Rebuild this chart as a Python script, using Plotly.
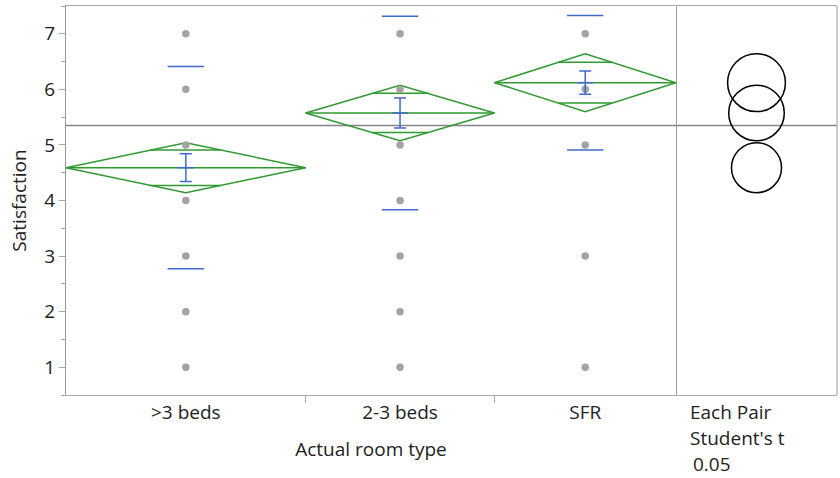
import plotly.graph_objects as go
import numpy as np

# ---------------- data ----------------
categories = [">3 beds", "2-3 beds", "SFR"]
group_n = [33, 26, 25]                       # relative group sizes (diamond widths)
group_means = [4.59, 5.575, 6.12]
ci_half = [0.45, 0.50, 0.52]                 # 95% CI half-width (diamond height)
std_err = [0.25, 0.27, 0.21]                 # blue error bars
std_dev = [1.82, 1.74, 1.21]                 # blue std-dev marks
grand_mean = 5.35
points = [
    [7, 6, 5, 4, 3, 2, 1],
    [7, 6, 5, 4, 3, 2, 1],
    [7, 6, 5, 3, 1],
]
y_ticks = [1, 2, 3, 4, 5, 6, 7]
compare_text = ["Each Pair", "Student's t", "0.05"]

# ---------------- style ----------------
W, H = 840, 478
ML, MR, MT, MB = 66, 3, 6, 83
GREEN = "#2f9a2f"
BLUE = "#4169cf"
DOT = "#a3a3a3"
FRAME = "#a8a8a8"
FONT = "Open Sans"
FS = 19
main_frac = 610 / 771

edges = np.concatenate([[0], np.cumsum(group_n)])
centers = (edges[:-1] + edges[1:]) / 2
total = edges[-1]

fig = go.Figure()

for i in range(len(categories)):
    x0, x1, xc = edges[i], edges[i + 1], centers[i]
    m, c = group_means[i], ci_half[i]
    # diamond outline
    fig.add_trace(go.Scatter(
        x=[x0, xc, x1, xc, x0], y=[m, m + c, m, m - c, m],
        mode="lines", line=dict(color=GREEN, width=1.5), hoverinfo="skip", showlegend=False))
    # mean line
    fig.add_trace(go.Scatter(
        x=[x0, x1], y=[m, m], mode="lines",
        line=dict(color=GREEN, width=1.5), hoverinfo="skip", showlegend=False))
    # overlap marks
    d = c / np.sqrt(2)
    frac = 1 - d / c
    hw = (x1 - x0) / 2 * frac
    for yy in (m + d, m - d):
        fig.add_trace(go.Scatter(
            x=[xc - hw, xc + hw], y=[yy, yy], mode="lines",
            line=dict(color=GREEN, width=1.5), hoverinfo="skip", showlegend=False))

# data points
for i in range(len(categories)):
    fig.add_trace(go.Scatter(
        x=[centers[i]] * len(points[i]), y=points[i], mode="markers",
        marker=dict(color=DOT, size=7.5), showlegend=False))

# std error bars with mean tick
fig.add_trace(go.Scatter(
    x=centers, y=group_means, mode="markers",
    marker=dict(symbol="line-ew", size=12, line=dict(color=BLUE, width=1.5)),
    error_y=dict(type="data", array=std_err, color=BLUE, thickness=1.5, width=6),
    showlegend=False))

# std dev marks
sd_y = [m + s for m, s in zip(group_means, std_dev)] + [m - s for m, s in zip(group_means, std_dev)]
sd_x = list(centers) * 2
fig.add_trace(go.Scatter(
    x=sd_x, y=sd_y, mode="markers",
    marker=dict(symbol="line-ew", size=26, line=dict(color=BLUE, width=1.5)),
    showlegend=False))

# invisible traces so that helper axes exist
fig.add_trace(go.Scatter(x=[0], y=[grand_mean], xaxis="x2", yaxis="y", mode="markers",
                         marker=dict(opacity=0), showlegend=False, hoverinfo="skip"))
fig.add_trace(go.Scatter(x=[0], y=[grand_mean], xaxis="x3", yaxis="y", mode="markers",
                         marker=dict(opacity=0), showlegend=False, hoverinfo="skip"))

# grand mean line across both panels
fig.add_shape(type="line", xref="paper", yref="y", x0=0, x1=1, y0=grand_mean, y1=grand_mean,
              line=dict(color="#858585", width=1.5), layer="below")

# comparison circles
for m, c in zip(group_means, ci_half):
    fig.add_shape(type="circle", xref="x2", yref="y", x0=-c, x1=c, y0=m - c, y1=m + c,
                  line=dict(color="black", width=1.5))

# right border
fig.add_shape(type="line", xref="paper", yref="paper", x0=1, x1=1, y0=0, y1=1,
              line=dict(color=FRAME, width=1.2))

# comparison text
plot_h = H - MT - MB
for k, t in enumerate(compare_text):
    fig.add_annotation(text=t, xref="paper", yref="paper",
                       x=main_frac + 0.016 + (0.003 if k == 2 else 0),
                       y=-(17 + k * 26) / plot_h, xanchor="left", yanchor="middle",
                       showarrow=False, font=dict(size=FS, color="#222"))

fig.update_layout(
    width=W, height=H,
    margin=dict(l=ML, r=MR, t=MT, b=MB),
    plot_bgcolor="white", paper_bgcolor="white",
    font=dict(family=FONT, size=FS, color="#222"),
    xaxis=dict(domain=[0, main_frac], range=[0, total], tickvals=list(centers), ticktext=categories,
               ticks="", showgrid=False, zeroline=False, showline=True, mirror=True,
               linecolor=FRAME, linewidth=1.2, tickfont=dict(size=FS),
               title=dict(text="Actual room type", standoff=18, font=dict(size=FS))),
    xaxis3=dict(overlaying="x", range=[0, total], tickvals=list(edges[1:-1]), ticks="outside",
                ticklen=7, tickcolor=FRAME, showticklabels=False, showgrid=False, zeroline=False,
                anchor="y", side="bottom"),
    xaxis2=dict(domain=[main_frac, 1], anchor="y", range=[-0.5, 0.5], scaleanchor="y",
                showticklabels=False, ticks="", showgrid=False, zeroline=False,
                showline=True, mirror=True, linecolor=FRAME, linewidth=1.2),
    yaxis=dict(range=[0.5, 7.5], tickvals=y_ticks, ticks="outside", ticklen=6, tickcolor=FRAME,
               showgrid=False, zeroline=False, showline=True, mirror=True, linecolor="#999999",
               linewidth=1.2, tickfont=dict(size=FS),
               minor=dict(dtick=1, tick0=0.5, ticks="outside", ticklen=4, tickcolor=FRAME),
               title=dict(text="Satisfaction", standoff=12, font=dict(size=FS))),
)

fig.write_html("out.html")
